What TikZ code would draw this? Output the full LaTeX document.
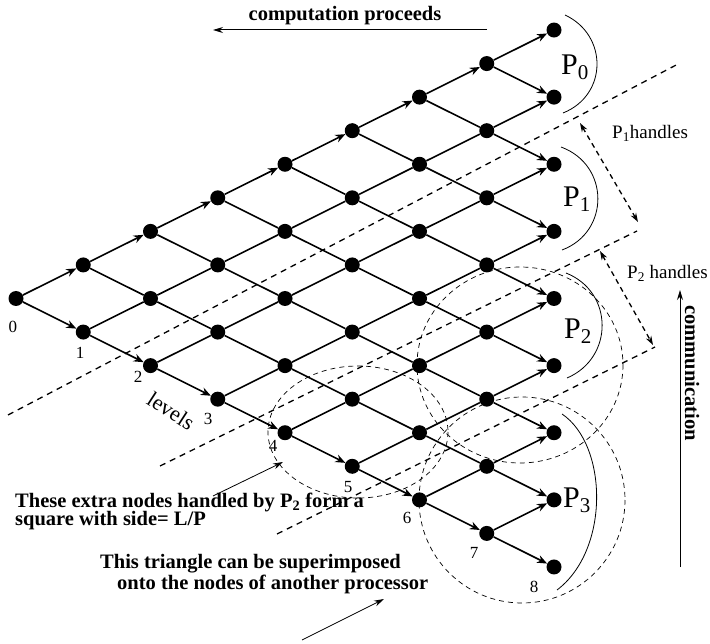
\documentclass[tikz,border=0pt]{standalone}
\usepackage{fontspec}
\setmainfont{Liberation Serif}
\usetikzlibrary{arrows.meta}
\begin{document}
\begin{tikzpicture}[x=1pt,y=-1pt,
  dotnode/.style={circle,fill=black,inner sep=0pt,minimum size=15pt},
  edgeplain/.style={line width=1.6pt},
  edgearr/.style={line width=1.6pt,-{Stealth[length=10pt,width=8pt]}},
  longdash/.style={line width=1.3pt,dash pattern=on 6pt off 5pt},
  thindash/.style={line width=0.7pt,dash pattern=on 5pt off 4pt},
  thinarc/.style={line width=0.8pt},
  handarrow/.style={line width=1.3pt,dash pattern=on 5pt off 4pt,{Stealth[length=9pt,width=6pt]}-{Stealth[length=9pt,width=6pt]}},
  bigtext/.style={font=\fontsize{20.5}{23}\selectfont\bfseries,inner sep=0pt},
  midtext/.style={font=\fontsize{19}{21}\selectfont,inner sep=0pt},
  digit/.style={font=\fontsize{17}{19}\selectfont,inner sep=0pt},
  plabel/.style={font=\fontsize{30}{30}\selectfont,inner sep=0pt,anchor=west}
]
\useasboundingbox (0,0) rectangle (710,644);

% lattice nodes
\foreach \k in {0,...,8}{
  \foreach \j in {0,...,\k}{
    \node[dotnode] (n\k-\j) at ({16+67.25*\k},{298.5-33.56*\k+67.12*\j}) {};
  }
}
% lattice edges
\foreach \k in {0,...,7}{
  \pgfmathtruncatemacro{\kn}{\k+1}
  \foreach \j in {0,...,\k}{
    \pgfmathtruncatemacro{\jn}{\j+1}
    \ifnum\j=0 \def\styA{edgearr}\else\ifnum\k=7 \def\styA{edgearr}\else\def\styA{edgeplain}\fi\fi
    \ifnum\j=\k \def\styB{edgearr}\else\ifnum\k=7 \def\styB{edgearr}\else\def\styB{edgeplain}\fi\fi
    \draw[\styA] (n\k-\j) -- (n\kn-\j);
    \draw[\styB] (n\k-\j) -- (n\kn-\jn);
  }
}

% level labels
\node[digit] (l0) at (13,327) {0};
\node[digit] (l1) at (80,353) {1};
\node[digit] (l2) at (138,377) {2};
\node[digit] (l3) at (208,419) {3};
\node[digit] (l4) at (273,446) {4};
\node[digit] (l5) at (348,487) {5};
\node[digit] (l6) at (407,518) {6};
\node[digit] (l7) at (474,553) {7};
\node[digit] (l8) at (534,587) {8};
\node[font=\fontsize{22}{24}\selectfont,inner sep=0pt,rotate=-33] (lev) at (171,411) {levels};

% long dashed processor boundaries
\coordinate (a1) at (8,415);   \coordinate (b1) at (680,63);
\coordinate (a2) at (160,466); \coordinate (b2) at (637,231);
\coordinate (a3) at (277,534); \coordinate (b3) at (655,347);
\draw[longdash] (a1) -- (b1);
\draw[longdash] (a2) -- (b2);
\draw[longdash] (a3) -- (b3);

% handles arrows
\coordinate (h1a) at (580,123); \coordinate (h1b) at (638,222);
\coordinate (h2a) at (600,251); \coordinate (h2b) at (653,345);
\draw[handarrow] (h1a) -- (h1b);
\draw[handarrow] (h2a) -- (h2b);
\node[midtext,anchor=west] (t1) at (612,133) {P\textsubscript{1}handles};
\node[midtext,anchor=west] (t2) at (627,273) {P\textsubscript{2} handles};

% processor labels and arcs
\node[plabel] (p0) at (561,67) {P\textsubscript{0}};
\node[plabel] (p1) at (563,199) {P\textsubscript{1}};
\node[plabel] (p2) at (564,331) {P\textsubscript{2}};
\node[plabel] (p3) at (563,500) {P\textsubscript{3}};
\coordinate (c0a) at (565,15);  \coordinate (c0b) at (563,113);
\coordinate (c1a) at (561,147); \coordinate (c1b) at (562,250);
\coordinate (c2a) at (566,273); \coordinate (c2b) at (567,378);
\coordinate (c3a) at (562,414); \coordinate (c3b) at (557,590);
\draw[thinarc] (c0a) .. controls (608,35) and (608,95) .. (c0b);
\draw[thinarc] (c1a) .. controls (610,165) and (610,232) .. (c1b);
\draw[thinarc] (c2a) .. controls (614,292) and (614,358) .. (c2b);
\draw[thinarc] (c3a) .. controls (608,445) and (610,550) .. (c3b);

% thin dashed loops
\draw[thindash] (358,432) ellipse [x radius=90, y radius=66];
\draw[thindash] (520,365) ellipse [x radius=103, y radius=98];
\draw[thindash] (522,500) circle [radius=103];

% top arrow and text
\coordinate (ta) at (487,30); \coordinate (tb) at (213,30);
\draw[line width=1pt,-{Stealth[length=10pt,width=6pt]}] (ta) -- (tb);
\node[bigtext] (comp) at (345,16) {computation proceeds};

% right arrow and text
\coordinate (ra) at (680,567); \coordinate (rb) at (680,290);
\draw[line width=1pt,-{Stealth[length=10pt,width=6pt]}] (ra) -- (rb);
\node[bigtext,rotate=-90] (comm) at (692,373) {communication};

% captions
\node[bigtext,anchor=west] (cap1) at (15,502) {These extra nodes handled by P\textsubscript{2} form a};
\node[bigtext,anchor=west] (cap2) at (15,521) {square with side= L/P};
\node[bigtext,anchor=west] (cap3) at (100,564) {This triangle can be superimposed};
\node[bigtext,anchor=west] (cap4) at (117,584) {onto the nodes of another processor};
\coordinate (ar1a) at (213,496); \coordinate (ar1b) at (283,462);
\draw[line width=0.8pt,-{Stealth[length=10pt,width=6pt]}] (ar1a) -- (ar1b);
\coordinate (ar2a) at (302,640); \coordinate (ar2b) at (384,599);
\draw[line width=0.8pt,-{Stealth[length=10pt,width=6pt]}] (ar2a) -- (ar2b);
\end{tikzpicture}
\end{document}
